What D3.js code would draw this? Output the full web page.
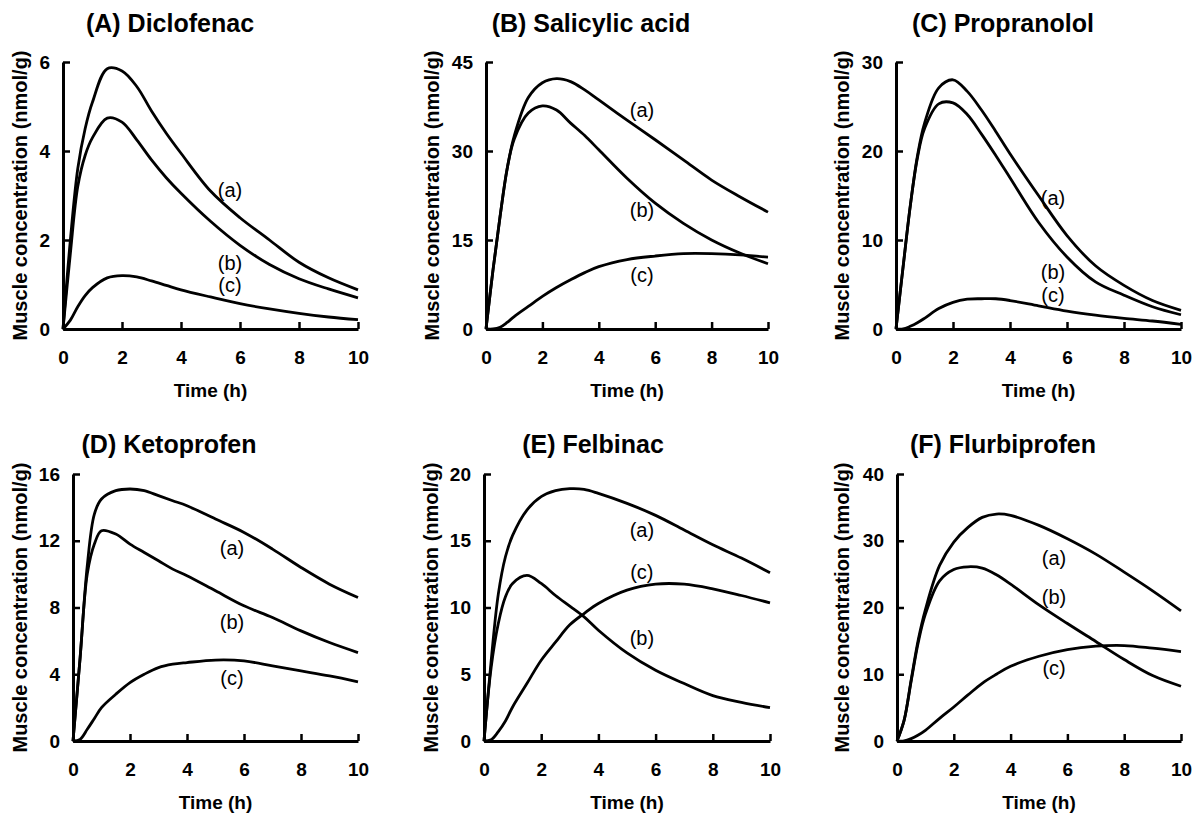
<!DOCTYPE html>
<html>
<head>
<meta charset="utf-8">
<script src="https://cdn.jsdelivr.net/npm/d3@7"></script>
<style>
  body { margin: 0; background: #fff; }
  text { font-family: "Liberation Sans", Arial, sans-serif; fill: #000; }
</style>
</head>
<body>
<script>
var W = 1192, H = 813;

// sampling times (h)
var times = [0, 0.25, 0.5, 0.75, 1, 1.5, 2, 2.5, 3, 3.5, 4, 5, 6, 7, 8, 9, 10];
var xTicks = [0, 2, 4, 6, 8, 10];
var seriesNames = ["(a)", "(b)", "(c)"];

var titles = ["(A) Diclofenac", "(B) Salicylic acid", "(C) Propranolol",
              "(D) Ketoprofen", "(E) Felbinac", "(F) Flurbiprofen"];
var yMax = [6, 45, 30, 16, 20, 40];
var yTicks = [[0, 2, 4, 6], [0, 15, 30, 45], [0, 10, 20, 30],
              [0, 4, 8, 12, 16], [0, 5, 10, 15, 20], [0, 10, 20, 30, 40]];

// muscle concentration (nmol/g), one array per curve
var diclofenacA = [0, 2.0, 3.6, 4.5, 5.1, 5.85, 5.8, 5.45, 4.9, 4.4, 3.95, 3.1, 2.5, 2.0, 1.5, 1.15, 0.88];
var diclofenacB = [0, 1.7, 3.2, 3.9, 4.3, 4.74, 4.65, 4.25, 3.8, 3.4, 3.05, 2.42, 1.88, 1.45, 1.13, 0.9, 0.7];
var diclofenacC = [0, 0.2, 0.5, 0.75, 0.93, 1.15, 1.2, 1.17, 1.08, 0.98, 0.88, 0.72, 0.57, 0.45, 0.35, 0.27, 0.21];

var salicylicA = [0, 10, 19, 27, 32.5, 39.0, 41.5, 42.2, 41.7, 40.3, 38.6, 35.2, 31.9, 28.5, 25.1, 22.3, 19.7];
var salicylicB = [0, 10, 19, 27, 32, 36.4, 37.6, 36.9, 34.7, 32.6, 30.2, 25.4, 21.2, 17.8, 15.0, 12.8, 11.0];
var salicylicC = [0, 0, 0.3, 1.1, 2.1, 3.8, 5.5, 7.0, 8.3, 9.5, 10.5, 11.7, 12.3, 12.7, 12.7, 12.5, 12.1];

var propranololA = [0, 7, 13.8, 19.4, 23.1, 27.1, 28.0, 26.7, 24.6, 22.2, 19.7, 15.0, 10.5, 7.1, 4.9, 3.2, 2.1];
var propranololB = [0, 7, 13.8, 19.2, 22.5, 25.3, 25.4, 24.1, 21.9, 19.5, 17.0, 12.0, 8.1, 5.3, 3.8, 2.5, 1.6];
var propranololC = [0, 0, 0.3, 0.7, 1.2, 2.3, 3.0, 3.35, 3.4, 3.4, 3.2, 2.6, 2.0, 1.55, 1.2, 0.9, 0.52];

var ketoprofenA = [0, 5.0, 10.5, 13.6, 14.5, 15.0, 15.1, 15.0, 14.7, 14.4, 14.1, 13.3, 12.5, 11.5, 10.4, 9.4, 8.6];
var ketoprofenB = [0, 5.0, 10.0, 11.8, 12.6, 12.4, 11.8, 11.3, 10.8, 10.3, 9.9, 9.0, 8.1, 7.4, 6.6, 5.9, 5.3];
var ketoprofenC = [0, 0.1, 0.7, 1.35, 2.0, 2.8, 3.5, 4.0, 4.4, 4.6, 4.7, 4.85, 4.8, 4.5, 4.2, 3.9, 3.55];

var felbinacA = [0, 6, 11.0, 13.8, 15.4, 17.3, 18.3, 18.75, 18.9, 18.85, 18.55, 17.8, 16.9, 15.8, 14.7, 13.7, 12.6];
var felbinacB = [0, 5.5, 8.8, 10.8, 11.8, 12.4, 11.8, 10.9, 10.1, 9.3, 8.3, 6.6, 5.3, 4.3, 3.4, 2.9, 2.5];
var felbinacC = [0, 0.1, 0.7, 1.5, 2.55, 4.3, 6.05, 7.4, 8.7, 9.55, 10.3, 11.3, 11.75, 11.75, 11.4, 10.9, 10.35];

var flurbiprofenA = [0, 3.1, 9.2, 15.2, 19.7, 26.3, 29.8, 32.0, 33.5, 34.0, 33.8, 32.3, 30.3, 28.0, 25.3, 22.5, 19.5];
var flurbiprofenB = [0, 3.1, 9.0, 14.8, 19.0, 24.0, 25.7, 26.1, 25.9, 24.9, 23.5, 20.4, 17.6, 14.9, 12.2, 9.8, 8.2];
var flurbiprofenC = [0, 0, 0.35, 0.9, 1.6, 3.4, 5.1, 6.9, 8.65, 10.0, 11.2, 12.7, 13.7, 14.2, 14.3, 13.9, 13.4];

// curve label anchors [time, value] for (a), (b), (c)
var labelPos = [
  [[5.66, 3.12], [5.66, 1.48], [5.66, 0.99]],
  [[5.53, 36.9], [5.53, 20.1], [5.53, 9.1]],
  [[5.51, 14.7], [5.51, 6.4], [5.51, 3.8]],
  [[5.58, 11.56], [5.58, 7.13], [5.58, 3.77]],
  [[5.52, 15.8], [5.52, 7.7], [5.52, 12.66]],
  [[5.53, 27.4], [5.53, 21.6], [5.53, 10.9]]
];

var panelSeries = [
  [diclofenacA, diclofenacB, diclofenacC],
  [salicylicA, salicylicB, salicylicC],
  [propranololA, propranololB, propranololC],
  [ketoprofenA, ketoprofenB, ketoprofenC],
  [felbinacA, felbinacB, felbinacC],
  [flurbiprofenA, flurbiprofenB, flurbiprofenC]
];

// plot boxes: left, right, top, bottom, title centre x / baseline y, y-label offset
var boxes = [
  {l: 63, r: 358, t: 62, b: 329, tx: 170, ty: 32, yl: -36},
  {l: 486, r: 768, t: 62, b: 329, tx: 591, ty: 32, yl: -47},
  {l: 896, r: 1181, t: 62, b: 329, tx: 1003, ty: 32, yl: -47},
  {l: 73, r: 358, t: 474, b: 741, tx: 169, ty: 453, yl: -46},
  {l: 484, r: 770, t: 474, b: 741, tx: 593, ty: 453, yl: -46},
  {l: 897, r: 1181, t: 474, b: 741, tx: 1003, ty: 453, yl: -48}
];

var svg = d3.select("body").append("svg")
  .attr("width", W).attr("height", H);

boxes.forEach(function(bx, i) {
  var x = d3.scaleLinear().domain([0, 10]).range([bx.l, bx.r]);
  var y = d3.scaleLinear().domain([0, yMax[i]]).range([bx.b, bx.t]);

  var g = svg.append("g");

  // title
  g.append("text")
    .attr("x", bx.tx).attr("y", bx.ty)
    .attr("text-anchor", "middle")
    .style("font-size", "25px").style("font-weight", "bold")
    .text(titles[i]);

  var line = d3.line()
    .x(function(d, j) { return x(times[j]); })
    .y(function(d) { return y(d); })
    .curve(d3.curveCatmullRom.alpha(0.5));

  panelSeries[i].forEach(function(s) {
    g.append("path")
      .attr("d", line(s))
      .attr("fill", "none")
      .attr("stroke", "#000")
      .attr("stroke-width", 2.8)
      .attr("stroke-linejoin", "round");
  });

  // axes
  var xa = g.append("g")
    .attr("transform", "translate(0," + bx.b + ")")
    .call(d3.axisBottom(x).tickValues(xTicks).tickFormat(d3.format("d"))
      .tickSize(-7).tickSizeOuter(0).tickPadding(22));
  var ya = g.append("g")
    .attr("transform", "translate(" + bx.l + ",0)")
    .call(d3.axisLeft(y).tickValues(yTicks[i]).tickFormat(d3.format("d"))
      .tickSize(-7).tickSizeOuter(0).tickPadding(13));

  [xa, ya].forEach(function(a) {
    a.select(".domain").attr("stroke-width", 3);
    a.selectAll(".tick line").attr("stroke-width", 2.5);
    a.selectAll(".tick text")
      .style("font-size", "19px").style("font-weight", "bold")
      .style("font-family", "'Liberation Sans', Arial, sans-serif");
  });

  // axis titles
  g.append("text")
    .attr("x", (bx.l + bx.r) / 2).attr("y", bx.b + 68)
    .attr("text-anchor", "middle")
    .style("font-size", "19px").style("font-weight", "bold")
    .text("Time (h)");

  g.append("text")
    .attr("transform", "translate(" + (bx.l + bx.yl) + "," + ((bx.t + bx.b) / 2) + ") rotate(-90)")
    .attr("text-anchor", "middle")
    .style("font-size", "20px").style("font-weight", "bold")
    .text("Muscle concentration (nmol/g)");

  // curve labels
  labelPos[i].forEach(function(p, k) {
    g.append("text")
      .attr("x", x(p[0])).attr("y", y(p[1]))
      .attr("dy", "0.35em")
      .attr("text-anchor", "middle")
      .style("font-size", "20px")
      .text(seriesNames[k]);
  });
});
</script>
</body>
</html>
